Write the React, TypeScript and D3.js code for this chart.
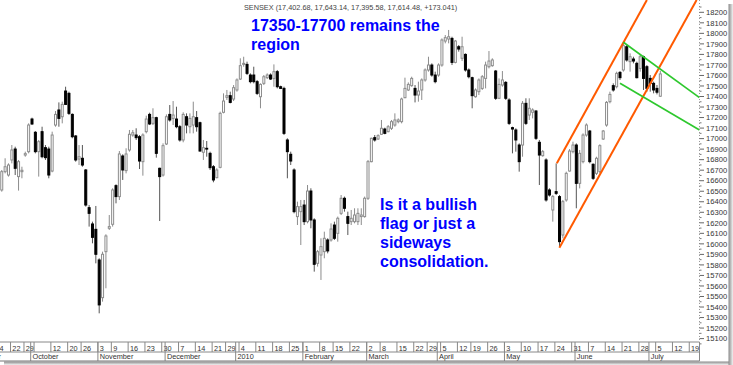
import React from "react";
import * as d3 from "d3";

const WIDTH = 733;
const HEIGHT = 365;

// ---- calendar (categories) ----
const CAL_START = "2009-09-01";
const CAL_END = "2010-07-23";
const FIRST_CANDLE = "2009-09-16";
const ANCHOR_DAY = "2009-11-03";
const HOLIDAYS = [
  "2009-09-21", "2009-09-28", "2009-10-02", "2009-10-13", "2009-10-19", "2009-11-02",
  "2009-12-25", "2009-12-28", "2010-01-26", "2010-02-12", "2010-03-01", "2010-03-24",
  "2010-04-02", "2010-04-14",
];
const EXTRA_SESSIONS = ["2009-10-17"];

// ---- OHLC series (from 2009-09-16) ----
const opens = [
  16512, 16686, 16654, 16797, 16901, 16639, 16686, 16844, 16876, 17186,
  17060, 16876, 17066, 16914, 16901, 16692, 17129, 17272, 17208, 17452,
  17430, 17230, 17025, 16806, 16813, 16702, 16344, 16189, 16138, 15847,
  15489, 15926, 16148, 16186, 16553, 16449, 16835, 16696, 16892, 17034,
  17034, 17018, 16781, 17066, 17230, 17145, 17199, 16718, 16654, 16949,
  17230, 17192, 17186, 17113, 16987, 17208, 17113, 17129, 17199, 17151,
  16870, 16908, 16860, 16733, 16629, 16727, 17250, 17392, 17408, 17376,
  17462, 17566, 17705, 17705, 17604, 17604, 17541, 17398, 17525, 17579,
  17604, 17572, 17636, 17493, 17477, 16987, 16851, 16702, 16259, 16306,
  16369, 16211, 16502, 16227, 15815, 15894, 15926, 16037, 16037, 16179,
  16100, 16290, 16433, 16259, 16211, 16211, 16211, 16259, 16259, 16433,
  16781, 17009, 16996, 17041, 17091, 17066, 17098, 17129, 17161, 17161,
  17389, 17462, 17503, 17477, 17414, 17462, 17557, 17652, 17699, 17604,
  17604, 17699, 17927, 17946, 17952, 17724, 17873, 17763, 17800, 17652,
  17579, 17398, 17446, 17477, 17572, 17683, 17693, 17642, 17383, 17509,
  17534, 17367, 17104, 17082, 16939, 16939, 17335, 17224, 17250, 17262,
  16965, 16838, 16797, 16512, 16322, 16496, 16449, 16084, 16417, 16692,
  16876, 16939, 16575, 16781, 17034, 17072, 16756, 16670, 16686, 16996,
  17129, 17351, 17503, 17493, 17629, 17652, 17873, 17731, 17756, 17715,
  17667, 17778, 17683, 17572, 17525, 17477, 17402.68,
];
const highs = [
  16702, 16813, 16765, 16939, 16923, 16797, 16733, 16876, 17145, 17199,
  17072, 16987, 17113, 16939, 16923, 17066, 17262, 17344, 17351, 17493,
  17446, 17240, 17034, 16939, 16939, 16711, 16369, 16211, 16360, 15863,
  15926, 16091, 16274, 16528, 16566, 16882, 16851, 16908, 17082, 17082,
  17098, 17034, 17050, 17218, 17246, 17288, 17208, 16724, 16955, 17230,
  17319, 17357, 17303, 17129, 17250, 17240, 17240, 17351, 17262, 17161,
  16987, 16977, 16876, 16749, 16718, 17256, 17430, 17462, 17446, 17509,
  17572, 17763, 17778, 17731, 17620, 17683, 17557, 17525, 17604, 17620,
  17620, 17705, 17652, 17503, 17493, 17003, 16876, 16718, 16401, 16417,
  16417, 16559, 16528, 16243, 15942, 16053, 16116, 16053, 16195, 16211,
  16259, 16464, 16449, 16306, 16322, 16338, 16338, 16338, 16449, 16797,
  17009, 17034, 17041, 17177, 17104, 17129, 17177, 17240, 17192, 17389,
  17579, 17534, 17588, 17509, 17541, 17572, 17667, 17778, 17715, 17636,
  17715, 17952, 17984, 18032, 17968, 17937, 17889, 17968, 17810, 17667,
  17588, 17477, 17572, 17604, 17731, 17832, 17763, 17652, 17572, 17642,
  17547, 17383, 17113, 17098, 16955, 17357, 17383, 17383, 17288, 17272,
  16987, 16892, 16813, 16528, 16464, 16765, 16464, 16417, 16686, 16901,
  16971, 16955, 16892, 17050, 17145, 17082, 16765, 16828, 16946, 17082,
  17357, 17446, 17525, 17636, 17642, 17921, 17889, 17810, 17778, 17731,
  17794, 17788, 17699, 17604, 17541, 17509, 17643.14,
];
const lows = [
  16496, 16670, 16639, 16765, 16654, 16506, 16623, 16828, 16860, 17129,
  16860, 16639, 16813, 16797, 16623, 16680, 17113, 17113, 17145, 17319,
  17224, 17003, 16781, 16749, 16733, 16354, 16164, 16005, 15815, 15340,
  15451, 15578, 16132, 16164, 16385, 16417, 16607, 16670, 16876, 17018,
  16987, 16711, 16648, 17050, 17129, 17129, 16819, 16217, 16639, 16939,
  17161, 17129, 17098, 16971, 16965, 17050, 17050, 17050, 17066, 16876,
  16797, 16828, 16702, 16585, 16623, 16718, 17240, 17367, 17335, 17357,
  17446, 17557, 17683, 17604, 17525, 17525, 17414, 17288, 17509, 17566,
  17557, 17493, 17477, 17471, 17034, 16623, 16749, 16290, 16179, 15989,
  16179, 16195, 16148, 15736, 15784, 15657, 15863, 15910, 16021, 16037,
  16021, 16274, 16306, 16084, 16179, 16195, 16179, 16179, 16249, 16417,
  16775, 16971, 16987, 17034, 17041, 17060, 17082, 17113, 17145, 17145,
  17383, 17452, 17493, 17344, 17351, 17367, 17541, 17636, 17588, 17525,
  17588, 17683, 17905, 17905, 17699, 17715, 17826, 17737, 17636, 17572,
  17288, 17389, 17414, 17462, 17477, 17667, 17683, 17367, 17376, 17493,
  17367, 17129, 16860, 16876, 16686, 16828, 17129, 17177, 17192, 16987,
  16559, 16828, 16401, 16449, 16211, 16464, 15974, 16053, 16401, 16686,
  16860, 16338, 16527, 16765, 17018, 16765, 16607, 16654, 16670, 16987,
  17113, 17335, 17446, 17477, 17557, 17636, 17731, 17636, 17715, 17572,
  17636, 17462, 17446, 17446, 17430, 17420, 17395.58,
];
const closes = [
  16686, 16733, 16749, 16892, 16718, 16781, 16699, 16857, 17129, 17139,
  16876, 16971, 16828, 16819, 16654, 17034, 17230, 17192, 17325, 17325,
  17240, 17018, 16797, 16828, 16749, 16369, 16290, 16062, 15901, 15420,
  15901, 16075, 16164, 16512, 16449, 16854, 16702, 16854, 17041, 17056,
  17009, 16787, 17034, 17186, 17139, 17199, 16860, 16639, 16933, 17208,
  17177, 17224, 17113, 16987, 17230, 17129, 17192, 17208, 17113, 16882,
  16914, 16901, 16724, 16607, 16702, 17240, 17357, 17408, 17344, 17484,
  17557, 17693, 17715, 17620, 17541, 17541, 17430, 17515, 17588, 17604,
  17566, 17636, 17493, 17477, 17050, 16876, 16787, 16306, 16354, 16354,
  16211, 16502, 16227, 15806, 15926, 15974, 16053, 15933, 16141, 16053,
  16243, 16433, 16338, 16195, 16243, 16274, 16290, 16274, 16433, 16781,
  17003, 16987, 17028, 17098, 17050, 17113, 17161, 17177, 17177, 17376,
  17477, 17515, 17572, 17414, 17452, 17557, 17652, 17699, 17604, 17541,
  17699, 17937, 17959, 17968, 17724, 17927, 17851, 17873, 17652, 17588,
  17408, 17462, 17557, 17588, 17699, 17737, 17747, 17383, 17515, 17557,
  17383, 17145, 17091, 16987, 16781, 17335, 17145, 17288, 17272, 17003,
  16844, 16876, 16417, 16464, 16449, 16480, 16021, 16401, 16670, 16882,
  16939, 16575, 16860, 17034, 17129, 16781, 16623, 16813, 16933, 17072,
  17344, 17420, 17462, 17620, 17579, 17883, 17747, 17778, 17737, 17579,
  17778, 17572, 17477, 17525, 17462, 17441, 17614.48,
];

// ---- axis labels ----
const weekLabels = [
  "", "", "14", "22", "29", "", "12", "20", "26", "3", "9", "16", "23", "30", "7", "14", "21", "29",
  "4", "11", "18", "25", "1", "8", "15", "22", "2", "8", "15", "22", "29", "5", "12", "19", "26",
  "3", "10", "17", "24", "31", "7", "14", "21", "28", "5", "12", "19", "",
];
const monthLabels = [
  "September", "October", "November", "December", "2010", "February", "March", "April", "May", "June", "July",
];
const priceMin = 15100;
const priceMax = 18200;
const priceStep = 100;

// ---- trend lines: [trading-day index from CAL_START, price] ----
const orangeUpper = [[176.2, 16766], [203.0, 18317]];
const orangeLower = [[176.96, 15964], [217.8, 18317]];
const greenUpper = [[196.0, 17915], [218.66, 17389]];
const greenLower = [[195.0, 17526], [218.66, 17082]];

// ---- texts ----
const headerText = "SENSEX (17,402.68, 17,643.14, 17,395.58, 17,614.48, +173.041)";
const titleLines = ["17350-17700 remains the", "region"];
const noteLines = ["Is it a bullish", "flag or just a", "sideways", "consolidation."];

const FONT = "'Liberation Sans', Arial, sans-serif";

export default function App() {
  const parse = d3.utcParse("%Y-%m-%d");
  const fmt = d3.utcFormat("%Y-%m-%d");
  const hol = new Set(HOLIDAYS);
  const extra = new Set(EXTRA_SESSIONS);
  const days: Date[] = [];
  const end = parse(CAL_END)!;
  for (let d = parse(CAL_START)!; d <= end; d = d3.utcDay.offset(d, 1)) {
    const k = fmt(d);
    const wd = d.getUTCDay();
    if ((wd >= 1 && wd <= 5 && !hol.has(k)) || extra.has(k)) days.push(d);
  }
  const first = days.findIndex((d) => fmt(d) === FIRST_CANDLE);
  const anchor = days.findIndex((d) => fmt(d) === ANCHOR_DAY);

  const plotRight = 699.5;
  const axisTop = 342;
  const axisMid = 352;
  const axisBottom = 361;

  const x = d3.scaleLinear().domain([anchor, anchor + 1]).range([99.2, 99.2 + 3.36]);
  const y = d3.scaleLinear().domain([priceMin, priceMax]).range([338.6, 12.3]);

  const candles = opens.map((o, i) => ({
    pos: first + i,
    o,
    h: highs[i],
    l: lows[i],
    c: closes[i],
  }));

  // week and month starts
  const weekStarts: number[] = [];
  const monthStarts: number[] = [];
  days.forEach((d, i) => {
    if (i === 0) {
      weekStarts.push(i);
      monthStarts.push(i);
      return;
    }
    const prev = days[i - 1];
    if (+d3.utcMonday.floor(d) !== +d3.utcMonday.floor(prev)) weekStarts.push(i);
    if (d.getUTCMonth() !== prev.getUTCMonth()) monthStarts.push(i);
  });

  const majorTicks = d3.range(priceMin, priceMax + 1, priceStep);
  const minorTicks = d3.range(priceMin - priceStep / 2, priceMax + priceStep, priceStep);

  const line = d3
    .line<number[]>()
    .x((p) => x(p[0]))
    .y((p) => y(p[1]));

  const lineOff = -1.3;

  return (
    <svg
      width={WIDTH}
      height={HEIGHT}
      style={{ position: "absolute", left: 0, top: 0, background: "#fff" }}
      fontFamily={FONT}
    >
      <defs>
        <clipPath id="plot">
          <rect x={0} y={0} width={plotRight} height={axisTop} />
        </clipPath>
        <clipPath id="axis">
          <rect x={0} y={axisTop} width={plotRight} height={axisBottom - axisTop} />
        </clipPath>
        <linearGradient id="shR" x1="0" x2="1" y1="0" y2="0">
          <stop offset="0" stopColor="#8a8a8a" />
          <stop offset="1" stopColor="#f2f2f2" />
        </linearGradient>
        <linearGradient id="shB" x1="0" x2="0" y1="0" y2="1">
          <stop offset="0" stopColor="#8a8a8a" />
          <stop offset="1" stopColor="#f2f2f2" />
        </linearGradient>
      </defs>
      <rect x={0} y={0} width={WIDTH} height={HEIGHT} fill="#fff" />

      {/* candles */}
      <g clipPath="url(#plot)">
        {candles.map((k, i) => {
          const cx = x(k.pos);
          const up = k.c >= k.o;
          const top = y(Math.max(k.o, k.c));
          const bot = y(Math.min(k.o, k.c));
          return (
            <g key={i}>
              <line x1={cx} x2={cx} y1={y(k.h)} y2={y(k.l)} stroke={up ? "#8c8c8c" : "#555"} strokeWidth={1} />
              <rect
                x={cx - 1}
                y={top}
                width={2}
                height={Math.max(0.8, bot - top)}
                fill={up ? "#fff" : "#000"}
                stroke={up ? "#8c8c8c" : "#000"}
                strokeWidth={1}
              />
            </g>
          );
        })}
        <path d={line(orangeUpper as any)!} stroke="#ff5a00" strokeWidth={2} fill="none" />
        <path d={line(orangeLower as any)!} stroke="#ff5a00" strokeWidth={2} fill="none" />
        <path d={line(greenUpper as any)!} stroke="#2ec82e" strokeWidth={1.7} fill="none" />
        <path d={line(greenLower as any)!} stroke="#2ec82e" strokeWidth={1.7} fill="none" />
      </g>

      {/* right plot border (dotted) */}
      <line x1={plotRight} x2={plotRight} y1={0} y2={axisTop} stroke="#999" strokeDasharray="1,2" />

      {/* y axis */}
      {minorTicks.map((t) => (
        <line key={"m" + t} x1={plotRight} x2={plotRight + 2} y1={y(t)} y2={y(t)} stroke="#777" />
      ))}
      {majorTicks.map((t) => (
        <g key={"M" + t}>
          <line x1={plotRight} x2={plotRight + 4.5} y1={y(t)} y2={y(t)} stroke="#666" />
          <text x={706} y={y(t) + 2.7} fontSize={7.6} fill="#333">
            {t}
          </text>
        </g>
      ))}

      {/* header */}
      <text x={244} y={9.5} fontSize={7.3} fill="#444">
        {headerText}
      </text>

      {/* annotations */}
      {titleLines.map((s, i) => (
        <text key={s} x={251} y={31 + i * 18.5} fontSize={16} fontWeight="bold" fill="#0000ff">
          {s}
        </text>
      ))}
      {noteLines.map((s, i) => (
        <text key={s} x={380} y={209.5 + i * 19} fontSize={16} fontWeight="bold" fill="#0000ff">
          {s}
        </text>
      ))}

      {/* date axis */}
      <g clipPath="url(#axis)">
        {weekStarts.map((p, i) => {
          const lx = x(p) + lineOff;
          const lbl = weekLabels[i] ?? "";
          return (
            <g key={"w" + i}>
              <line x1={lx} x2={lx} y1={axisTop} y2={axisMid} stroke="#888" />
              {lbl !== "" && (
                <text x={lx + 1.8} y={350.6} fontSize={7.3} fill="#333">
                  {lbl}
                </text>
              )}
            </g>
          );
        })}
        {monthStarts.map((p, i) => {
          const lx = x(p) + lineOff;
          return (
            <g key={"mo" + i}>
              <line x1={lx} x2={lx} y1={axisTop} y2={axisBottom} stroke="#888" />
              <text x={lx + 1.8} y={359.4} fontSize={7.3} fill="#333">
                {monthLabels[i] ?? ""}
              </text>
            </g>
          );
        })}
      </g>
      <line x1={0} x2={plotRight} y1={axisTop} y2={axisTop} stroke="#888" />
      <line x1={0} x2={plotRight} y1={axisMid} y2={axisMid} stroke="#888" />
      <line x1={0} x2={plotRight} y1={axisBottom} y2={axisBottom} stroke="#777" />
      <line x1={plotRight} x2={plotRight} y1={axisTop} y2={axisBottom} stroke="#888" />

      {/* drop shadow */}
      <rect x={4} y={361.5} width={725} height={3.5} fill="url(#shB)" />
      <rect x={728.5} y={4} width={4.5} height={361} fill="url(#shR)" />
    </svg>
  );
}
